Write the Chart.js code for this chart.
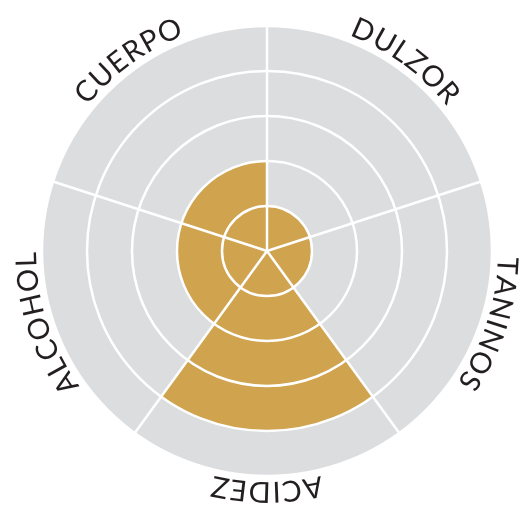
<!DOCTYPE html>
<html>
<head>
<meta charset="utf-8">
<script src="https://cdn.jsdelivr.net/npm/chart.js@4"></script>
<style>
  html, body { margin: 0; padding: 0; background: #fff; }
</style>
</head>
<body>
<canvas id="myChart" width="527" height="508"></canvas>
<script>
const labels = ['DULZOR', 'TANINOS', 'ACIDEZ', 'ALCOHOL', 'CUERPO'];
const values = [1, 1, 4, 2, 2];
const scaleMax = 5;
const scaleStep = 1;

// grey disc under the sectors + labels bent along the outer edge
const curvedLabels = {
    id: 'curvedLabels',
    beforeDatasetsDraw(chart) {
        const r = chart.scales.r, ctx = chart.ctx;
        ctx.save();
        ctx.fillStyle = '#dcdddf';
        ctx.beginPath();
        ctx.arc(r.xCenter, r.yCenter, r.drawingArea, 0, Math.PI * 2);
        ctx.fill();
        ctx.restore();
    },
    afterDraw(chart) {
        const r = chart.scales.r, ctx = chart.ctx;
        const rad = r.drawingArea + 6, spacing = 1;
        const step = Math.PI * 2 / labels.length;
        ctx.save();
        ctx.font = '400 29px Lato';
        ctx.fillStyle = '#231f20';
        ctx.textAlign = 'center';
        ctx.textBaseline = 'alphabetic';
        labels.forEach(function (txt, i) {
            const chars = txt.split('');
            const widths = chars.map(c => ctx.measureText(c).width);
            const total = widths.reduce((a, b) => a + b, 0) + spacing * (chars.length - 1);
            let a = step * (i + 0.5) - total / rad / 2;
            chars.forEach(function (c, k) {
                const mid = a + widths[k] / 2 / rad;
                ctx.save();
                ctx.translate(r.xCenter, r.yCenter);
                ctx.rotate(mid);
                ctx.fillText(c, 0, -rad);
                ctx.restore();
                a += (widths[k] + spacing) / rad;
            });
        });
        ctx.restore();
    }
};

const ctx1 = document.getElementById('myChart');
const myChart1 = new Chart(ctx1, {
    type: 'polarArea',
    data: {
        labels: labels,
        datasets: [{
            data: values,
            backgroundColor: '#d0a34f',
            borderWidth: 0
        }]
    },
    options: {
        responsive: false,
        animation: false,
        devicePixelRatio: 1,
        layout: {padding: {left: 42, right: 35, top: 26, bottom: 32}},
        plugins: {legend: {display: false}, tooltip: {enabled: false}},
        scales: {
            r: {
                min: 0,
                max: scaleMax,
                ticks: {display: false, stepSize: scaleStep},
                grid: {color: '#ffffff', lineWidth: 2.5, circular: true, z: 1},
                angleLines: {display: true, color: '#ffffff', lineWidth: 2.5},
                pointLabels: {display: false}
            }
        }
    },
    plugins: [curvedLabels]
});
</script>
</body>
</html>
